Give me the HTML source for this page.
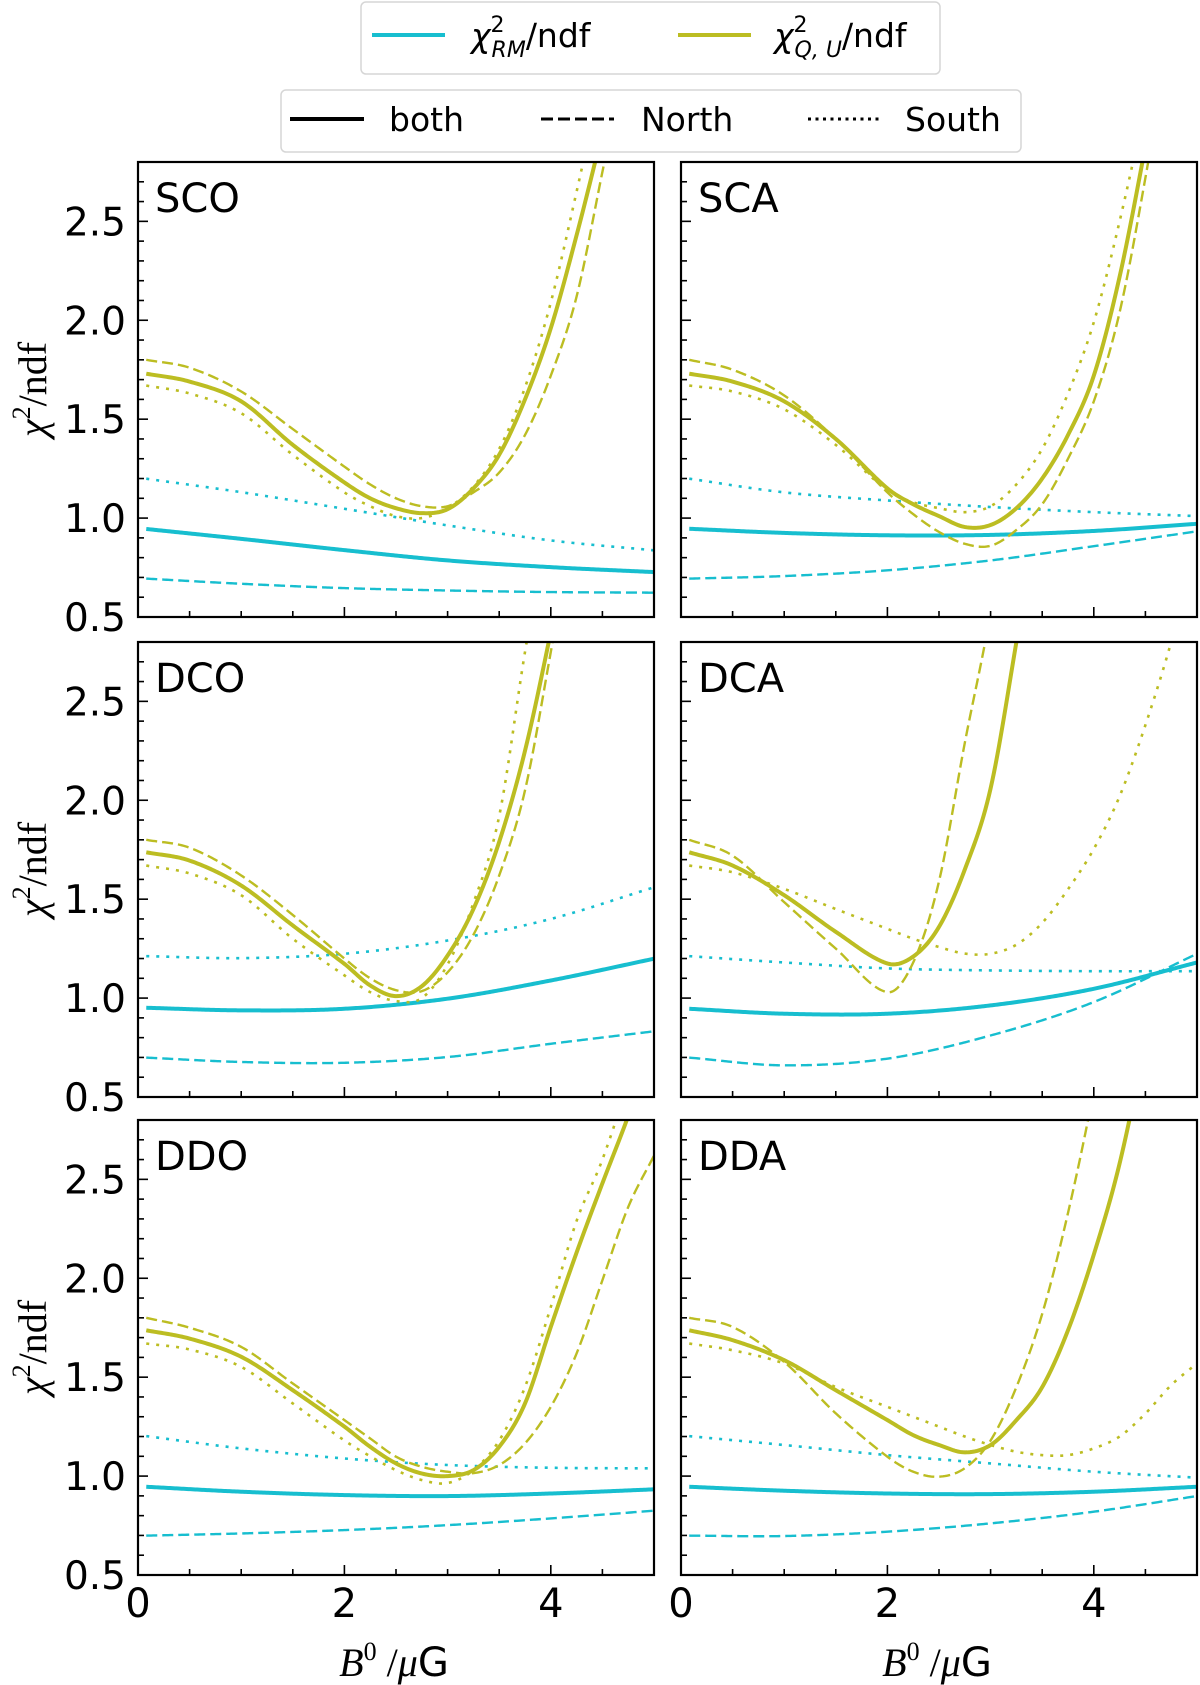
<!DOCTYPE html>
<html><head><meta charset="utf-8">
<style>
html,body{margin:0;padding:0;background:#fff;}
svg{display:block;}
text{font-family:"DejaVu Sans","Liberation Sans",sans-serif;}
</style></head>
<body>
<svg id="fig" width="1200" height="1685" viewBox="0 0 1200 1685" xmlns="http://www.w3.org/2000/svg">
  <g>
    <rect x="361" y="2" width="579" height="72" rx="5" fill="#fff" stroke="#d6d6d6" stroke-width="1.5"/>
    <line x1="372" y1="35" x2="445" y2="35" stroke="#17becf" stroke-width="4"/>
    <text x="471" y="47" font-size="33"><tspan font-style="italic">χ</tspan><tspan font-size="22" dy="-15">2</tspan><tspan font-size="22" font-style="italic" dx="-13" dy="25">RM</tspan><tspan dy="-10">/ndf</tspan></text>
    <line x1="678" y1="35" x2="751" y2="35" stroke="#bcbd22" stroke-width="4"/>
    <text x="774" y="47" font-size="33"><tspan font-style="italic">χ</tspan><tspan font-size="22" dy="-15">2</tspan><tspan font-size="22" font-style="italic" dx="-13" dy="25">Q, U</tspan><tspan dy="-10">/ndf</tspan></text>
  </g>
  <g>
    <rect x="281" y="90" width="740" height="62" rx="5" fill="#fff" stroke="#d6d6d6" stroke-width="1.5"/>
    <line x1="290" y1="119" x2="364" y2="119" stroke="#000" stroke-width="4"/>
    <text x="389" y="131" font-size="33">both</text>
    <line x1="541" y1="119" x2="614" y2="119" stroke="#000" stroke-width="3" stroke-dasharray="12 5"/>
    <text x="641" y="131" font-size="33">North</text>
    <line x1="808" y1="119" x2="880" y2="119" stroke="#000" stroke-width="3" stroke-dasharray="3 4.5"/>
    <text x="905" y="131" font-size="33">South</text>
  </g>
</svg>
<script>
const panelNames = ["SCO","SCA","DCO","DCA","DDO","DDA"];
const qGrid = [0.08,0.5,1,1.5,2,2.25,2.5,2.75,3,3.25,3.5,3.75,4,4.25,4.5,4.75,5];
const rmGrid = [0.08,1,2,3,4,5];
const qBoth = [
 [1.73,1.69,1.59,1.37,1.18,1.10,1.05,1.025,1.045,1.15,1.32,1.60,1.96,2.43,2.95,3.5,4.1],
 [1.73,1.69,1.59,1.40,1.15,1.07,1.01,0.955,0.965,1.05,1.20,1.42,1.72,2.22,2.88,3.6,4.4],
 [1.737,1.695,1.569,1.367,1.173,1.064,1.01,1.06,1.215,1.45,1.79,2.25,2.85,3.5,4.2,5,5.8],
 [1.737,1.67,1.52,1.335,1.175,1.21,1.36,1.65,2.06,2.8,3.6,4.5,5.5,6.5,7.5,8.5,9.5],
 [1.737,1.695,1.603,1.434,1.25,1.148,1.064,1.013,1.0,1.03,1.148,1.367,1.754,2.13,2.48,2.82,3.2],
 [1.737,1.687,1.586,1.434,1.283,1.207,1.157,1.12,1.157,1.283,1.45,1.737,2.12,2.58,3.2,3.9,4.7]
];
const qNorth = [
 [1.80,1.76,1.64,1.45,1.26,1.17,1.10,1.06,1.06,1.13,1.23,1.42,1.72,2.12,2.75,3.4,4.1],
 [1.80,1.75,1.62,1.40,1.13,1.02,0.93,0.87,0.86,0.94,1.07,1.30,1.59,2.04,2.72,3.5,4.3],
 [1.80,1.76,1.62,1.42,1.20,1.10,1.04,1.035,1.13,1.32,1.62,2.05,2.75,3.5,4.3,5.1,6],
 [1.80,1.72,1.485,1.25,1.03,1.18,1.59,2.29,2.95,3.8,4.7,5.6,6.5,7.4,8.3,9.2,10.1],
 [1.80,1.75,1.653,1.468,1.283,1.19,1.098,1.047,1.022,1.015,1.056,1.165,1.35,1.62,1.99,2.36,2.62],
 [1.80,1.754,1.577,1.317,1.098,1.022,0.997,1.04,1.18,1.45,1.82,2.33,2.95,3.7,4.5,5.4,6.3]
];
const qSouth = [
 [1.67,1.63,1.53,1.32,1.13,1.06,1.01,1.00,1.05,1.16,1.35,1.66,2.09,2.65,3.25,3.9,4.6],
 [1.67,1.64,1.55,1.37,1.14,1.08,1.05,1.03,1.06,1.17,1.35,1.63,1.99,2.5,3.1,3.8,4.5],
 [1.67,1.63,1.52,1.30,1.115,1.03,0.985,1.0,1.17,1.48,1.92,2.75,3.5,4.3,5.1,6,7],
 [1.67,1.636,1.552,1.45,1.35,1.30,1.258,1.225,1.224,1.27,1.38,1.55,1.754,2.02,2.38,2.8,3.3],
 [1.67,1.64,1.552,1.367,1.18,1.10,1.03,0.98,0.965,1.03,1.18,1.45,1.855,2.29,2.6,3.0,3.5],
 [1.67,1.636,1.569,1.45,1.35,1.30,1.25,1.20,1.157,1.123,1.106,1.106,1.14,1.20,1.316,1.46,1.57]
];
const rmBoth = [
 [0.945,0.895,0.838,0.786,0.752,0.727],
 [0.946,0.925,0.913,0.915,0.935,0.971],
 [0.951,0.938,0.946,0.997,1.089,1.199],
 [0.946,0.921,0.921,0.963,1.047,1.18],
 [0.946,0.921,0.904,0.899,0.912,0.933],
 [0.946,0.926,0.912,0.909,0.921,0.946]
];
const rmNorth = [
 [0.694,0.668,0.646,0.634,0.626,0.623],
 [0.694,0.707,0.736,0.786,0.858,0.933],
 [0.699,0.677,0.673,0.702,0.769,0.832],
 [0.699,0.66,0.694,0.811,0.98,1.224],
 [0.699,0.71,0.727,0.752,0.786,0.825],
 [0.699,0.697,0.719,0.761,0.82,0.899]
];
const rmSouth = [
 [1.199,1.131,1.047,0.963,0.887,0.837],
 [1.199,1.13,1.089,1.056,1.03,1.01],
 [1.212,1.202,1.224,1.291,1.40,1.56],
 [1.212,1.18,1.15,1.14,1.136,1.136],
 [1.202,1.14,1.089,1.056,1.042,1.039],
 [1.202,1.157,1.106,1.064,1.022,0.992]
];
const yTickLabels = ["0.5","1.0","1.5","2.0","2.5"];
const yTickValues = [0.5,1.0,1.5,2.0,2.5];
const xTickLabels = ["0","2","4"];
const xTickValues = [0,2,4];

const NS = "http://www.w3.org/2000/svg";
const svg = document.getElementById("fig");
const COLX = [138, 681], ROWY = [162, 642, 1120], PW = 516, PH = 455;
const XMIN = 0, XMAX = 5, YMIN = 0.5, YMAX = 2.8;
const CYAN = "#17becf", OLIVE = "#bcbd22";

function mk(tag, attrs, parent) {
  const e = document.createElementNS(NS, tag);
  for (const k in attrs) e.setAttribute(k, attrs[k]);
  parent.appendChild(e);
  return e;
}
function interp(xs, ys, x) {
  const n = xs.length;
  let i = 0;
  while (i < n - 2 && x > xs[i + 1]) i++;
  const x0 = xs[i], x1 = xs[i + 1], y0 = ys[i], y1 = ys[i + 1], h = x1 - x0;
  const m = (j) => {
    if (j === 0) return (ys[1] - ys[0]) / (xs[1] - xs[0]);
    if (j === n - 1) return (ys[n - 1] - ys[n - 2]) / (xs[n - 1] - xs[n - 2]);
    return (ys[j + 1] - ys[j - 1]) / (xs[j + 1] - xs[j - 1]);
  };
  const t = (x - x0) / h, t2 = t * t, t3 = t2 * t;
  return (2*t3 - 3*t2 + 1) * y0 + (t3 - 2*t2 + t) * h * m(i) + (-2*t3 + 3*t2) * y1 + (t3 - t2) * h * m(i + 1);
}

panelNames.forEach((name, p) => {
  const col = p % 2, row = Math.floor(p / 2);
  const ox = COLX[col], oy = ROWY[row];
  const sx = (v) => ox + (v - XMIN) / (XMAX - XMIN) * PW;
  const sy = (v) => oy + PH - (v - YMIN) / (YMAX - YMIN) * PH;

  const g = mk("g", {}, svg);
  
  

  const cp = mk("clipPath", {id: "clip" + p}, g);
  mk("rect", {x: ox, y: oy, width: PW, height: PH}, cp);

  const plot = mk("g", {"clip-path": "url(#clip" + p + ")"}, g);
  
  

  const series = [
    {xs: rmGrid, ys: rmNorth[p], c: CYAN, w: 2.4, d: "11 5", n: "rm-north"},
    {xs: rmGrid, ys: rmSouth[p], c: CYAN, w: 2.6, d: "3 7", n: "rm-south"},
    {xs: rmGrid, ys: rmBoth[p], c: CYAN, w: 4, d: "", n: "rm-both"},
    {xs: qGrid, ys: qNorth[p], c: OLIVE, w: 2.4, d: "11 5", n: "qu-north"},
    {xs: qGrid, ys: qSouth[p], c: OLIVE, w: 2.6, d: "3 7", n: "qu-south"},
    {xs: qGrid, ys: qBoth[p], c: OLIVE, w: 4, d: "", n: "qu-both"}
  ];
  series.forEach(s => {
    const x0 = s.xs[0], x1 = s.xs[s.xs.length - 1];
    let dstr = "";
    const N = 300;
    for (let k = 0; k <= N; k++) {
      const xv = x0 + (x1 - x0) * k / N;
      let yv = interp(s.xs, s.ys, xv);
      yv = Math.min(yv, 3.2);
      dstr += (k ? "L" : "M") + sx(xv).toFixed(2) + "," + sy(yv).toFixed(2);
    }
    const path = mk("path", {d: dstr, fill: "none", stroke: s.c, "stroke-width": s.w}, plot);
    if (s.d) path.setAttribute("stroke-dasharray", s.d);
    
    
  });

  const tk = mk("g", {stroke: "#000", "stroke-width": 1.6}, g);
  
  
  for (let k = 1; k < 23; k++) {
    const v = YMIN + k * 0.1;
    const yy = sy(v);
    const major = (k % 5 === 0);
    mk("line", {x1: ox, y1: yy, x2: ox + (major ? 10 : 6), y2: yy}, tk);
  }
  for (let k = 1; k < 10; k++) {
    const v = k * 0.5;
    const xx = sx(v);
    const major = (k % 4 === 0);
    mk("line", {x1: xx, y1: oy + PH, x2: xx, y2: oy + PH - (major ? 10 : 6)}, tk);
  }

  mk("rect", {x: ox, y: oy, width: PW, height: PH, fill: "none", stroke: "#000", "stroke-width": 2.2}, g);

  const lbl = mk("text", {x: ox + 17, y: oy + 50, "font-size": 40}, g);
  lbl.textContent = name;
  
  

  if (col === 0) {
    yTickLabels.forEach((t, i) => {
      const tt = mk("text", {x: 126, y: sy(yTickValues[i]) + 14, "font-size": 39, "text-anchor": "end"}, g);
      tt.textContent = t;
      
      
    });
    const yl = mk("text", {x: 0, y: 0, "font-size": 40, "text-anchor": "middle",
      transform: "translate(46," + (oy + PH / 2) + ") rotate(-90)",
      style: "font-family:'Liberation Serif','DejaVu Serif',serif"}, g);
    yl.innerHTML = '<tspan font-style="italic">χ</tspan><tspan font-size="26" dy="-16">2</tspan><tspan dy="16">/ndf</tspan>';
    
    
  }
  if (row === 2) {
    xTickLabels.forEach((t, i) => {
      const tt = mk("text", {x: sx(xTickValues[i]), y: 1617, "font-size": 40, "text-anchor": "middle"}, g);
      tt.textContent = t;
      
      
    });
    const xl = mk("text", {x: ox + PW / 2 - 2, y: 1676, "font-size": 40, "text-anchor": "middle",
      style: "font-family:'Liberation Serif','DejaVu Serif',serif"}, g);
    xl.innerHTML = '<tspan font-style="italic">B</tspan><tspan font-size="26" dy="-16">0</tspan><tspan dy="16"> /</tspan><tspan font-style="italic">μ</tspan><tspan style="font-family:\'DejaVu Sans\',sans-serif">G</tspan>';
    
    
  }
});
</script>
</body></html>
